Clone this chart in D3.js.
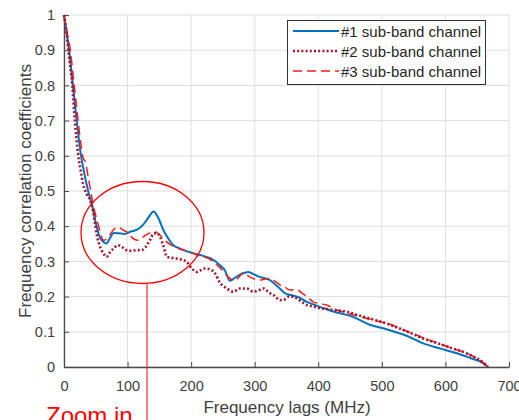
<!DOCTYPE html>
<html>
<head>
<meta charset="utf-8">
<script src="https://cdn.jsdelivr.net/npm/d3@7"></script>
<style>
  html, body { margin: 0; padding: 0; background: #fff; }
  svg { display: block; font-family: "Liberation Sans", Arial, sans-serif; }
</style>
</head>
<body>
<svg id="chart" width="519" height="420"></svg>
<script>
// Frequency correlation coefficient vs frequency lag for three sub-band channels
const ch1Lag = [0,4,8,14,20,26,32,38,44,50,56,62,67,72,78,86,95,105,115,125,133,141,148,156,164,172,180,188,200,214,230,245,253,261,270,280,290,300,308,316,324,332,340,348,358,368,382,395,410,425,445,460,481,502,520,540,565,591,618,640,655,667];
const ch1Coef = [1,0.95,0.9,0.8,0.7,0.61,0.55,0.5,0.46,0.41,0.37,0.355,0.351,0.365,0.381,0.38,0.378,0.385,0.39,0.405,0.425,0.442,0.425,0.39,0.365,0.346,0.338,0.332,0.325,0.318,0.309,0.29,0.275,0.245,0.255,0.265,0.27,0.262,0.256,0.252,0.247,0.235,0.222,0.209,0.204,0.199,0.185,0.176,0.166,0.157,0.148,0.138,0.12,0.11,0.1,0.088,0.067,0.053,0.039,0.025,0.015,0];

const ch2Lag = [0,4,8,13,17,22,26,30,36,41,46,51,55,59,63,67,72,78,85,92,98.5,106,114,120,125,130,135,141,146,151,156,162,170,177,185,193,201,209,215,222,232,238,245,255,266,277,287,298,306,314,322,330,340,347,353,360,366,374,382,392,403,414,424,435,445,458,471,481,494,507,520,534,550,565,580,597,612,628,642,654,667];
const ch2Coef = [1,0.95,0.88,0.8,0.7,0.607,0.56,0.52,0.49,0.474,0.441,0.38,0.35,0.332,0.32,0.313,0.325,0.337,0.346,0.34,0.332,0.33,0.332,0.332,0.334,0.345,0.36,0.379,0.38,0.37,0.346,0.313,0.31,0.308,0.305,0.299,0.28,0.27,0.275,0.28,0.275,0.265,0.24,0.225,0.214,0.223,0.223,0.214,0.218,0.223,0.212,0.204,0.19,0.192,0.2,0.2,0.195,0.185,0.176,0.172,0.167,0.165,0.162,0.16,0.157,0.15,0.143,0.138,0.131,0.124,0.115,0.105,0.093,0.081,0.072,0.062,0.052,0.043,0.031,0.02,0];

const ch3Lag = [0,5,10,16,21,26,30,34,38,42,46,50,54,58,62,66,70,77.6,85,92,98.5,109,117,125,135,143,151,161,168,175,183,193,200,209,218,227,238,245,251,256,261,268,275,282,292,300,308,316,324,332,340,348,355,366,374,382,392,403,413,429,442,455,476,494,510,534,550,565,580,597,612,628,642,654,667];
const ch3Coef = [1,0.95,0.9,0.8,0.72,0.64,0.595,0.58,0.54,0.5,0.46,0.43,0.403,0.375,0.36,0.362,0.37,0.389,0.398,0.39,0.384,0.365,0.36,0.37,0.381,0.384,0.375,0.356,0.347,0.341,0.335,0.33,0.325,0.318,0.313,0.309,0.294,0.283,0.27,0.26,0.252,0.245,0.255,0.268,0.256,0.25,0.247,0.25,0.252,0.243,0.233,0.226,0.219,0.22,0.21,0.2,0.185,0.18,0.176,0.162,0.155,0.148,0.138,0.13,0.123,0.105,0.094,0.083,0.073,0.062,0.052,0.043,0.032,0.02,0];

const xTicks = [0,100,200,300,400,500,600,700];
const yTicks = [0,0.1,0.2,0.3,0.4,0.5,0.6,0.7,0.8,0.9,1];
const seriesNames = ["#1 sub-band channel", "#2 sub-band channel", "#3 sub-band channel"];

const svg = d3.select("#chart");
const x = d3.scaleLinear().domain([0, 700]).range([64, 509]);
const y = d3.scaleLinear().domain([0, 1]).range([367, 15]);

// grid
const grid = svg.append("g").attr("stroke", "#dedede").attr("stroke-width", 1);
xTicks.forEach(t => grid.append("line")
  .attr("x1", x(t)).attr("x2", x(t)).attr("y1", y(0)).attr("y2", y(1)));
yTicks.forEach(t => grid.append("line")
  .attr("x1", x(0)).attr("x2", x(700)).attr("y1", y(t)).attr("y2", y(t)));

// axes
const axisColor = "#4a4a4a";
const xAxis = svg.append("g").attr("transform", `translate(0,${y(0)})`)
  .call(d3.axisBottom(x).tickValues(xTicks).tickFormat(d3.format("d")).tickSizeInner(-5).tickSizeOuter(0).tickPadding(14));
const yAxis = svg.append("g").attr("transform", `translate(${x(0)},0)`)
  .call(d3.axisLeft(y).tickValues(yTicks).tickFormat(d => d === 0 || d === 1 ? d3.format("d")(d) : d3.format(".1f")(d)).tickSizeInner(-5).tickSizeOuter(0).tickPadding(9));
[xAxis, yAxis].forEach(a => {
  a.select(".domain").attr("stroke", axisColor).attr("stroke-width", 1.3);
  a.selectAll(".tick line").attr("stroke", axisColor);
  a.selectAll("text").attr("fill", "#404040").style("font-size", "14.5px").style("font-family", "'Liberation Sans', Arial, sans-serif");
});

// axis titles
svg.append("text").attr("x", 287).attr("y", 413).attr("text-anchor", "middle")
  .attr("fill", "#404040").style("font-size", "17px").text("Frequency lags (MHz)");
svg.append("text").attr("transform", "translate(31,191) rotate(-90)").attr("text-anchor", "middle")
  .attr("fill", "#404040").style("font-size", "17px").text("Frequency correlation coefficients");

// series lines
const line = d3.line().x(d => x(d[0])).y(d => y(d[1])).curve(d3.curveMonotoneX);
const styles = [
  { color: "#0072BD", width: 2, dash: null },
  { color: "#A2142F", width: 2.6, dash: "2,2.2" },
  { color: "#FF1A1A", width: 1.5, dash: "9,5" }
];
const series = [d3.zip(ch1Lag, ch1Coef), d3.zip(ch2Lag, ch2Coef), d3.zip(ch3Lag, ch3Coef)];
const plot = svg.append("g");
[0, 2, 1].forEach(i => {
  plot.append("path").datum(series[i]).attr("d", line)
    .attr("fill", "none").attr("stroke", styles[i].color)
    .attr("stroke-width", styles[i].width)
    .attr("stroke-dasharray", styles[i].dash);
});

// legend
const lg = svg.append("g");
lg.append("rect").attr("x", 287.5).attr("y", 20.5).attr("width", 198).attr("height", 64)
  .attr("fill", "#fff").attr("stroke", "#333").attr("stroke-width", 1);
seriesNames.forEach((name, i) => {
  const ly = 31 + i * 20;
  lg.append("line").attr("x1", 293).attr("x2", 339).attr("y1", ly).attr("y2", ly)
    .attr("stroke", styles[i].color).attr("stroke-width", styles[i].width)
    .attr("stroke-dasharray", styles[i].dash);
  lg.append("text").attr("x", 341).attr("y", ly + 5.5).attr("fill", "#262626")
    .style("font-size", "15px").text(name);
});

// zoom callout
svg.append("ellipse").attr("cx", 142.5).attr("cy", 232.5).attr("rx", 61.5).attr("ry", 51)
  .attr("fill", "none").attr("stroke", "#FF0000").attr("stroke-width", 1.3);
svg.append("line").attr("x1", 147).attr("x2", 147).attr("y1", 283.5).attr("y2", 420)
  .attr("stroke", "#FF0000").attr("stroke-width", 1);
svg.append("text").attr("x", 46).attr("y", 424).attr("fill", "#FF0000")
  .style("font-size", "24px").text("Zoom in");
</script>
</body>
</html>
